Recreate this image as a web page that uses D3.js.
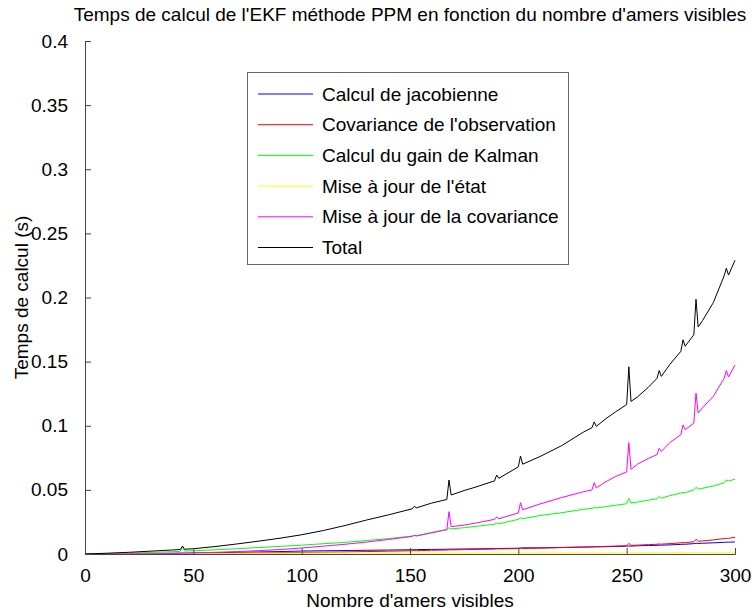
<!DOCTYPE html>
<html><head><meta charset="utf-8">
<script src="https://cdn.jsdelivr.net/npm/d3@7"></script>
<style>
body{margin:0;background:#fff}
text{font-family:"Liberation Sans",Arial,Helvetica,sans-serif}
</style>
</head><body>
<svg id="chart" width="752" height="611"></svg>
<script>
// Number of visible landmarks (x)
const landmarks = [0,10,20,30,40,44,45,46,50,60,70,80,90,100,110,120,130,140,150,151,152,153,160,167,168,169,175,180,189,190,191,200,201,202,210,220,230,234,235,236,240,245,250,251,252,255,260,264,265,266,270,275,276,277,281,282,283,285,290,295,296,297,300];

const jacobienne = [0,0.0002,0.0003,0.0004,0.0006,0.0007,0.0007,0.0007,0.0008,0.0010,0.0013,0.0016,0.0019,0.0023,0.0025,0.0027,0.0029,0.0031,0.0033,0.0033,0.0034,0.0034,0.0036,0.0037,0.0038,0.0038,0.0039,0.0040,0.0042,0.0043,0.0043,0.0045,0.0047,0.0048,0.0048,0.0051,0.0054,0.0055,0.0055,0.0056,0.0057,0.0059,0.0061,0.0062,0.0062,0.0064,0.0066,0.0068,0.0068,0.0069,0.0071,0.0075,0.0076,0.0076,0.0081,0.0084,0.0082,0.0084,0.0087,0.0091,0.0092,0.0092,0.0094];

const covObservation = [0,0.0000,0.0001,0.0001,0.0002,0.0002,0.0002,0.0002,0.0003,0.0004,0.0006,0.0008,0.0010,0.0012,0.0014,0.0016,0.0019,0.0022,0.0025,0.0025,0.0026,0.0026,0.0029,0.0031,0.0033,0.0032,0.0034,0.0036,0.0039,0.0040,0.0040,0.0042,0.0044,0.0043,0.0046,0.0050,0.0054,0.0056,0.0058,0.0057,0.0059,0.0062,0.0065,0.0083,0.0067,0.0069,0.0073,0.0076,0.0078,0.0077,0.0081,0.0087,0.0089,0.0088,0.0096,0.0115,0.0099,0.0102,0.0110,0.0120,0.0122,0.0122,0.0130];

const gainKalman = [0,0.0003,0.0007,0.0012,0.0018,0.0021,0.0052,0.0023,0.0025,0.0033,0.0041,0.0050,0.0059,0.0069,0.0080,0.0091,0.0105,0.0120,0.0138,0.0140,0.0144,0.0142,0.0168,0.0190,0.0205,0.0196,0.0205,0.0215,0.0232,0.0242,0.0236,0.0270,0.0282,0.0275,0.0300,0.0322,0.0348,0.0356,0.0362,0.0359,0.0368,0.0380,0.0392,0.0434,0.0397,0.0405,0.0420,0.0430,0.0447,0.0435,0.0455,0.0475,0.0480,0.0478,0.0500,0.0520,0.0505,0.0512,0.0530,0.0555,0.0577,0.0570,0.0582];

const majEtat = [0,0.0001,0.0002,0.0003,0.0003,0.0004,0.0004,0.0004,0.0004,
  0.0005,0.0005,0.0006,0.0006,0.0007,0.0007,0.0007,0.0008,0.0008,
  0.0008,0.0008,0.0008,0.0008,0.0008,0.0008,0.0008,0.0008,0.0008,0.0008,0.0008,0.0008,0.0008,
  0.0009,0.0009,0.0009,0.0009,0.0009,0.0009,0.0009,0.0009,0.0009,0.0009,0.0009,0.0009,0.0009,0.0009,0.0009,
  0.0010,0.0010,0.0010,0.0010,0.0010,0.0010,0.0010,0.0010,0.0010,0.0010,0.0010,0.0010,0.0010,0.0010,0.0010,0.0010,0.0010];

const majCovariance = [0,0.0000,0.0001,0.0002,0.0004,0.0005,0.0006,0.0006,0.0008,0.0013,0.0019,0.0026,0.0035,0.0047,0.0061,0.0076,0.0093,0.0113,0.0135,0.0138,0.0145,0.0141,0.0165,0.0190,0.0330,0.0213,0.0225,0.0240,0.0270,0.0290,0.0275,0.0320,0.0400,0.0345,0.0390,0.0440,0.0485,0.0500,0.0556,0.0515,0.0560,0.0605,0.0640,0.0868,0.0660,0.0700,0.0745,0.0775,0.0824,0.0800,0.0870,0.0930,0.1006,0.0970,0.1020,0.1253,0.1100,0.1140,0.1230,0.1370,0.1430,0.1380,0.1474];

const total = [0,0.0006,0.0013,0.0022,0.0031,0.0035,0.0062,0.0037,0.0041,0.0058,0.0078,0.0100,0.0123,0.0150,0.0183,0.0222,0.0265,0.0305,0.0348,0.0352,0.0372,0.0360,0.0397,0.0425,0.0577,0.0460,0.0495,0.0520,0.0570,0.0616,0.0590,0.0680,0.0764,0.0700,0.0760,0.0845,0.0950,0.0985,0.1030,0.0995,0.1050,0.1110,0.1165,0.1460,0.1190,0.1225,0.1300,0.1370,0.1430,0.1385,0.1480,0.1580,0.1670,0.1620,0.1710,0.1986,0.1770,0.1820,0.1960,0.2170,0.2228,0.2175,0.2290];

const seriesNames = ["Calcul de jacobienne","Covariance de l'observation","Calcul du gain de Kalman","Mise à jour de l'état","Mise à jour de la covariance","Total"];
const seriesColors = ["#0000ff","#ff0000","#00ff00","#ffff00","#ff00ff","#000000"];
const seriesValues = [jacobienne, covObservation, gainKalman, majEtat, majCovariance, total];

const xTicks = [0,50,100,150,200,250,300];
const yTicks = [0,0.05,0.1,0.15,0.2,0.25,0.3,0.35,0.4];
const yTickLabels = ["0","0.05","0.1","0.15","0.2","0.25","0.3","0.35","0.4"];

const titleText = "Temps de calcul de l'EKF méthode PPM en fonction du nombre d'amers visibles";
const xLabel = "Nombre d'amers visibles";
const yLabel = "Temps de calcul (s)";

// ---- drawing ----
const W = 752, H = 611;
const FS = 19;
const m = {left:85, right:17, top:41, bottom:57};
const svg = d3.select("#chart");
const x = d3.scaleLinear().domain([0,300]).range([m.left, W - m.right]);
const y = d3.scaleLinear().domain([0,0.4]).range([H - m.bottom, m.top]);

const line = d3.line().x(d => x(d[0])).y(d => y(d[1]));
const g = svg.append("g");
seriesValues.forEach((vals, i) => {
  g.append("path")
    .datum(landmarks.map((lx, j) => [lx, vals[j]]))
    .attr("fill","none")
    .attr("stroke", seriesColors[i])
    .attr("stroke-width", 1)
    .attr("stroke-linejoin","round")
    .attr("d", line);
});

const xAxis = svg.append("g").attr("transform", `translate(0,${H - m.bottom})`)
  .call(d3.axisBottom(x).tickValues(xTicks).tickFormat(d3.format("d")).tickSize(-6).tickPadding(15));
const yAxis = svg.append("g").attr("transform", `translate(${m.left},0)`)
  .call(d3.axisLeft(y).tickValues(yTicks).tickFormat((d,i) => yTickLabels[i]).tickSize(-6).tickPadding(17));
[xAxis, yAxis].forEach(a => {
  a.selectAll("path,line").attr("stroke","#444");
  a.selectAll("text").attr("font-size", FS).attr("fill","#000")
    .style("font-family", '"Liberation Sans",Arial,Helvetica,sans-serif');
});

svg.append("text").attr("x", (m.left + W - m.right)/2).attr("y", 21)
  .attr("text-anchor","middle").attr("font-size", FS).text(titleText);
svg.append("text").attr("x", (m.left + W - m.right)/2).attr("y", 607)
  .attr("text-anchor","middle").attr("font-size", FS).text(xLabel);
svg.append("text").attr("transform", `translate(28,${(m.top + H - m.bottom)/2}) rotate(-90)`)
  .attr("text-anchor","middle").attr("font-size", FS).text(yLabel);

// legend
const lg = svg.append("g");
lg.append("rect").attr("x", 247.5).attr("y", 72.5).attr("width", 321).attr("height", 192)
  .attr("fill","#fff").attr("stroke","#666").attr("stroke-width",1);
seriesNames.forEach((name, i) => {
  const yy = 94 + i * 30.7;
  lg.append("line").attr("x1", 258).attr("x2", 313).attr("y1", yy).attr("y2", yy)
    .attr("stroke", seriesColors[i]).attr("stroke-width", 1);
  lg.append("text").attr("x", 322).attr("y", yy).attr("dy","0.35em")
    .attr("font-size", FS).text(name);
});
</script>
</body></html>
